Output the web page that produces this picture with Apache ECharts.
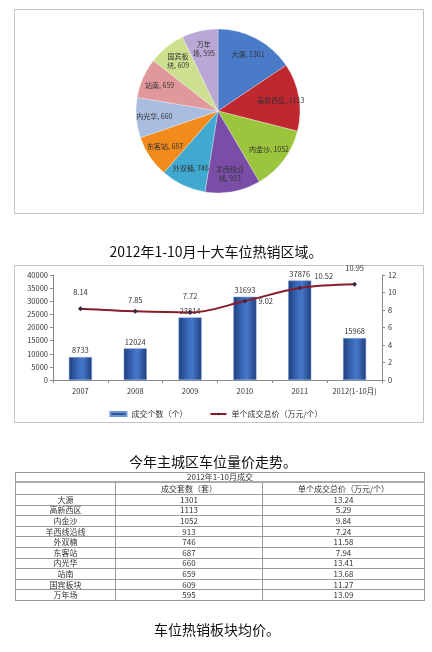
<!DOCTYPE html>
<html><head><meta charset="utf-8">
<script src="https://cdn.jsdelivr.net/npm/echarts@6/dist/echarts.min.js"></script>
<style>
html,body{margin:0;padding:0;background:#fff;}
#c{position:absolute;left:0;top:0;width:432px;height:652px;}
#tbl{position:absolute;left:15px;top:472px;width:409px;border-collapse:collapse;font-family:"Noto Sans CJK SC",sans-serif;font-size:8px;color:#333;table-layout:fixed;}
#tbl td{border:1px solid #9a9a9a;text-align:center;padding:0;line-height:8px;height:9.6px;overflow:hidden;white-space:nowrap;}
#tbl tr.t td{height:8px;border-bottom:2px solid #aaa;}
#tbl tr.h td{height:11px;}
</style></head>
<body>
<div id="c"></div>
<table id="tbl"></table>
<script>
// ---- data ----
const pieNames = ['大源','高新西区','内金沙','羊西线沿线','外双楠','东客站','内光华','站南','国宾板块','万年场'];
const pieValues = [1301,1113,1052,913,746,687,660,659,609,595];
const pieWrapAt = [0,0,0,4,0,0,0,0,3,2];
const years = ['2007','2008','2009','2010','2011','2012(1-10月)'];
const dealCounts = [8733,12024,23814,31693,37876,15968];
const unitPrices = [8.14,7.85,7.72,9.02,10.52,10.95];
const tableTitle = '2012年1-10月成交';
const tableHeaders = ['', '成交套数（套）', '单个成交总价（万元/个）'];
const tableNames = ['大源','高新西区','内金沙','羊西线沿线','外双楠','东客站','内光华','站南','国宾板块','万年场'];
const tableCounts = [1301,1113,1052,913,746,687,660,659,609,595];
const tablePrices = ['13.24','5.29','9.84','7.24','11.58','7.94','13.41','13.68','11.27','13.09'];
const captions = ['2012年1-10月十大车位热销区域。','今年主城区车位量价走势。','车位热销板块均价。'];
const legendNames = ['成交个数（个）','单个成交总价（万元/个）'];

// ---- table ----
(function(){
  const t = document.getElementById('tbl');
  let h = '<colgroup><col style="width:100px"><col style="width:147px"><col style="width:162px"></colgroup>';
  h += '<tr class="t"><td colspan="3">' + tableTitle + '</td></tr>';
  h += '<tr class="h">' + tableHeaders.map(s => '<td>' + s + '</td>').join('') + '</tr>';
  for (let i = 0; i < tableNames.length; i++) {
    h += '<tr><td>' + tableNames[i] + '</td><td>' + tableCounts[i] + '</td><td>' + tablePrices[i] + '</td></tr>';
  }
  t.innerHTML = h;
})();

// ---- chart ----
const pieColors = ['#4a7bc9','#c0282f','#9bc53d','#7a4ea6','#3fa9cf','#f28a1c','#a8bde0','#e0989b','#cde08f','#b9a8d6'];
const PCX = 218, PCY = 111, PR = 82;
const chart = echarts.init(document.getElementById('c'), null, {renderer:'canvas'});
const FONT = '"Noto Sans CJK SC", sans-serif';

const pieData = pieNames.map((n, i) => ({name: n, value: pieValues[i]}));
const lineData = unitPrices.map((v, i) => {
  const d = {value: v};
  if (i === 3) d.label = {position: 'right', distance: 11};
  if (i === 4) d.label = {offset: [24, 4]};
  if (i === 1) d.label = {distance: 5};
  return d;
});

const option = {
  animation: false,
  textStyle: {fontFamily: FONT},
  graphic: [
    {type:'rect', shape:{x:14.5,y:9.5,width:409,height:204}, style:{fill:'none', stroke:'#c4c4c4', lineWidth:1}, z:-1},
    {type:'rect', shape:{x:14.5,y:265.5,width:409,height:157}, style:{fill:'none', stroke:'#c4c4c4', lineWidth:1}, z:-1},
    {type:'text', x:216, y:252, style:{text:captions[0], font:'14px ' + FONT, fill:'#111', align:'center', verticalAlign:'middle'}},
    {type:'text', x:213, y:462, style:{text:captions[1], font:'14px ' + FONT, fill:'#111', align:'center', verticalAlign:'middle'}},
    {type:'text', x:217, y:630, style:{text:captions[2], font:'14px ' + FONT, fill:'#111', align:'center', verticalAlign:'middle'}}
  ],
  color: pieColors,
  legend: {
    top: 405, left: 'center', itemGap: 22, itemWidth: 16, itemHeight: 4,
    textStyle: {fontSize: 8, color: '#333'},
    data: [
      {name: legendNames[0], icon: 'rect', itemStyle: {color: '#2f5597'}},
      {name: legendNames[1]}
    ]
  },
  grid: {left: 53, right: 50, top: 275, bottom: 272},
  xAxis: {
    type: 'category', data: years, gridIndex: 0,
    axisLine: {lineStyle: {color: '#8a8a8a'}},
    axisTick: {show: true, lineStyle: {color: '#8a8a8a'}, length: 3},
    axisLabel: {fontSize: 7.5, color: '#333', margin: 7, interval: 0}
  },
  yAxis: [
    {type: 'value', min: 0, max: 40000, interval: 5000, gridIndex: 0,
     axisLine: {show: true, lineStyle: {color: '#8a8a8a'}},
     axisTick: {show: true, length: 3, lineStyle: {color: '#8a8a8a'}},
     splitLine: {show: false},
     axisLabel: {fontSize: 7.5, color: '#333', margin: 5, formatter: v => String(v)}},
    {type: 'value', min: 0, max: 12, interval: 2, gridIndex: 0, position: 'right',
     axisLine: {show: true, lineStyle: {color: '#8a8a8a'}},
     axisTick: {show: true, length: 3, lineStyle: {color: '#8a8a8a'}},
     splitLine: {show: false},
     axisLabel: {fontSize: 7.5, color: '#333', margin: 6, formatter: v => String(v)}}
  ],
  series: [
    {
      type: 'pie', center: [PCX, PCY], radius: PR, startAngle: 90, clockwise: true,
      data: pieData,
      itemStyle: {borderColor: 'rgba(255,255,255,0.6)', borderWidth: 0.5},
      labelLine: {show: false},
      label: {
        position: 'inside', fontSize: 7, color: '#333', lineHeight: 9,
        formatter: function(p){
          const w = pieWrapAt[p.dataIndex];
          const full = p.name + ', ' + p.value;
          return w ? full.slice(0, w) + '\n' + full.slice(w) : full;
        }
      },
      labelLayout: function(p){
        const r = p.labelRect;
        const mx = r.x + r.width / 2, my = r.y + r.height / 2;
        const k = 1.45;
        return {x: PCX + (mx - PCX) * k, y: PCY + (my - PCY) * k};
      },
      emphasis: {disabled: true}
    },
    {
      name: legendNames[0], type: 'bar', xAxisIndex: 0, yAxisIndex: 0,
      data: dealCounts, barWidth: 23,
      itemStyle: {
        color: new echarts.graphic.LinearGradient(0, 0, 1, 0, [
          {offset: 0, color: '#1f3f7c'},
          {offset: 0.45, color: '#3f6fc2'},
          {offset: 0.6, color: '#4676c8'},
          {offset: 1, color: '#1f3f7c'}
        ]),
        borderColor: '#6d95d6', borderWidth: 0.5
      },
      label: {show: true, position: 'top', fontSize: 7.5, color: '#333', distance: 3, formatter: p => String(p.value)},
      z: 2
    },
    {
      name: legendNames[1], type: 'line', xAxisIndex: 0, yAxisIndex: 1,
      data: lineData, smooth: 0.35,
      lineStyle: {color: '#8b1c2c', width: 2},
      itemStyle: {color: '#3a2a40'},
      symbol: 'diamond', symbolSize: 5,
      label: {show: true, position: 'top', fontSize: 7.5, color: '#333', distance: 10},
      z: 3
    }
  ]
};
chart.setOption(option);
</script>
</body></html>
